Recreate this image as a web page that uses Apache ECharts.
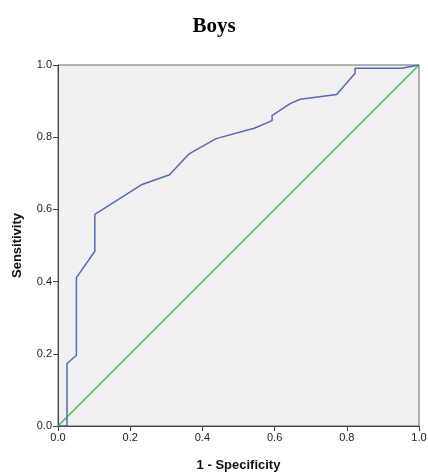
<!DOCTYPE html>
<html>
<head>
<meta charset="utf-8">
<style>
  html, body { margin: 0; padding: 0; background: #fff; }
  #chart { width: 428px; height: 473px; }
</style>
<script src="https://cdn.jsdelivr.net/npm/echarts@6/dist/echarts.min.js"></script>
</head>
<body>
<div id="chart"></div>
<script>
// ROC curve points
var fpr = [0, 0.025, 0.025, 0.051, 0.051, 0.102, 0.102, 0.233, 0.309, 0.362, 0.438, 0.533, 0.542, 0.593, 0.593, 0.643, 0.671, 0.772, 0.823, 0.823, 0.952, 1]
var tpr = [0, 0, 0.173, 0.196, 0.411, 0.484, 0.586, 0.669, 0.696, 0.753, 0.796, 0.822, 0.824, 0.846, 0.860, 0.893, 0.905, 0.918, 0.977, 0.991, 0.991, 1]
var refLine = [[0, 0], [1, 1]]

var chart = echarts.init(document.getElementById('chart'))

var curve = fpr.map(function (x, i) { return [x, tpr[i]] })
var axisFont = { fontFamily: 'Liberation Sans, Arial', fontSize: 11, color: '#222' }

chart.setOption({
  animation: false,
  title: {
    text: 'Boys',
    left: 'center',
    top: 11,
    textStyle: { fontFamily: 'Liberation Serif, Times New Roman', fontSize: 21, fontWeight: 'bold', color: '#000' }
  },
  grid: {
    left: 58,
    right: 9,
    top: 65,
    bottom: 47,
    outerBoundsMode: 'none',
    show: true,
    backgroundColor: '#f0f0f0',
    borderColor: '#666',
    borderWidth: 1
  },
  xAxis: {
    type: 'value',
    min: 0,
    max: 1,
    interval: 0.2,
    name: '1 - Specificity',
    nameLocation: 'middle',
    nameGap: 33,
    nameTextStyle: { fontFamily: 'Liberation Sans, Arial', fontSize: 13, fontWeight: 'bold', color: '#111' },
    axisLine: { lineStyle: { color: '#444' } },
    axisTick: { length: 5, lineStyle: { color: '#444' } },
    axisLabel: Object.assign({ margin: 6, formatter: function (v) { return v.toFixed(1) } }, axisFont),
    splitLine: { show: false }
  },
  yAxis: {
    type: 'value',
    min: 0,
    max: 1,
    interval: 0.2,
    name: 'Sensitivity',
    nameLocation: 'middle',
    nameGap: 34,
    nameTextStyle: { fontFamily: 'Liberation Sans, Arial', fontSize: 13, fontWeight: 'bold', color: '#111' },
    axisLine: { lineStyle: { color: '#444' } },
    axisTick: { length: 5, lineStyle: { color: '#444' } },
    axisLabel: Object.assign({ margin: 6, formatter: function (v) { return v.toFixed(1) } }, axisFont),
    splitLine: { show: false }
  },
  series: [{
    name: 'Reference',
    type: 'line',
    data: refLine,
    symbol: 'none',
    lineStyle: { color: '#3cb54a', width: 1.3 }
  }, {
    name: 'ROC',
    type: 'line',
    data: curve,
    symbol: 'none',
    lineStyle: { color: '#5468b8', width: 1.5 }
  }]
})
</script>
</body>
</html>
